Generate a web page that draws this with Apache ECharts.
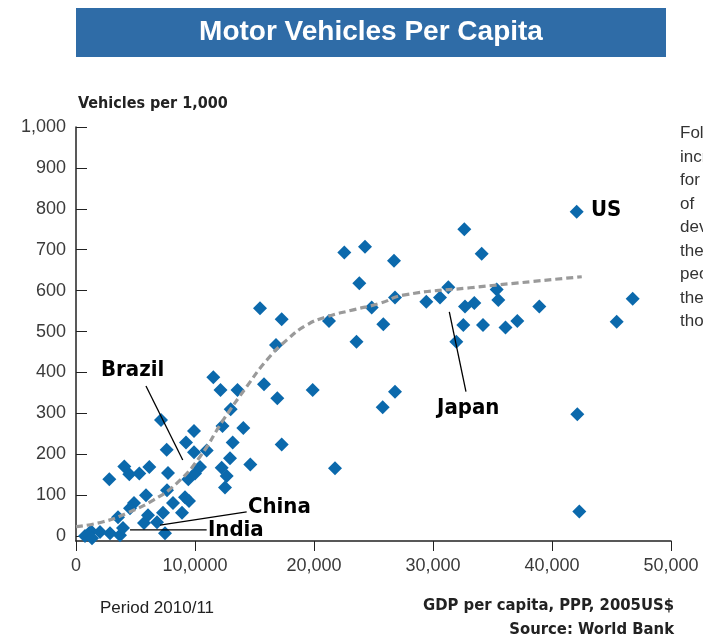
<!DOCTYPE html>
<html>
<head>
<meta charset="utf-8">
<script src="https://cdn.jsdelivr.net/npm/echarts@6/dist/echarts.min.js"></script>
<style>html,body{margin:0;padding:0;background:#fff}#c{width:703px;height:640px}</style>
</head>
<body>
<div id="c"></div>
<script>
// ---- data ----
const gdpPerCapita = [756,1260,1513,2017,1345,2857,3697,3529,3950,5714,6050,6807,7479,7311,8907,8151,9159,9495,7647,5882,4874,4538,2798,4059,4479,5319,6159,7731,9437,10000,10420,12243,12663,12521,7622,9243,9916,10983,12941,14647,7143,9916,12311,14059,13168,13000,11538,12143,13571,15798,16916,17285,16807,15462,17285,19890,21765,21261,22546,24286,23807,23571,24849,25823,25773,26807,26723,26807,29437,30588,31286,31958,32546,32689,33471,32630,34092,34202,35353,35487,36092,37084,38933,42076,42126,42294,45437,46782];
const vehiclesPer1000 = [0,12,-17,10,-5,7,2,46,20,32,51,34,7,57,57,81,95,86,112,100,81,68,139,170,151,153,169,154,139,153,169,167,147,119,211,229,205,209,190,175,284,257,269,264,229,310,388,357,357,371,337,224,467,557,530,357,166,526,693,707,618,475,559,518,315,353,673,583,573,583,608,475,516,561,570,750,690,516,603,577,510,526,561,793,298,60,524,580];
const trendGdp = [0,2290,4260,6500,8460,10420,12380,14340,16020,17700,19390,21070,23300,25550,27500,33110,42500];
const trendVehicles = [23,35,56,88,129,194,284,365,430,479,516,536,553,569,589,607,634];
const xTickLabels = ['0','10,0000','20,000','30,000','40,000','50,000'];
const yTickValues = [0,100,200,300,400,500,600,700,800,900,1000];
// annotations (data units)
const annotationNames = ['Brazil','Japan','China','India','US'];
const annotationLabelAt = [[2100,406],[30340,313],[14450,71],[11090,15],[43280,797]];
const annotationLines = [[[5880,367],[8970,186]],[[31370,548],[32770,353]],[[7060,27],[14340,59]],[[4540,15],[10980,15]],null];

const chart = echarts.init(document.getElementById('c'));
const cond = "'Liberation Sans Narrow','DejaVu Sans Condensed','Liberation Sans',sans-serif";
const tickFont = "'Liberation Sans',Arial,sans-serif";

chart.setOption({
  animation:false,
  backgroundColor:'#fff',
  grid:{left:76,right:32,top:127,bottom:99},
  xAxis:{type:'value',min:0,max:50000,interval:10000,
    splitLine:{show:false},
    axisLine:{show:true,onZero:false,lineStyle:{color:'#222',width:1.5}},
    axisTick:{show:true,inside:false,length:10,lineStyle:{color:'#222',width:1}},
    axisLabel:{margin:16,fontSize:18,color:'#3a3a3a',fontFamily:tickFont,
      formatter:v=>xTickLabels[Math.round(v/10000)]}},
  yAxis:{type:'value',min:-12,max:1000,
    splitLine:{show:false},
    axisLine:{show:true,lineStyle:{color:'#222',width:1.5}},
    axisTick:{show:true,inside:true,length:11,customValues:yTickValues,lineStyle:{color:'#222',width:1}},
    axisLabel:{margin:10,fontSize:18,color:'#3a3a3a',fontFamily:tickFont,customValues:yTickValues,
      formatter:v=>v.toLocaleString('en-US')}},
  series:[
    {type:'scatter',symbol:'diamond',symbolSize:14,
     itemStyle:{color:'#0b69ac',opacity:1},
     data:gdpPerCapita.map((x,i)=>[x,vehiclesPer1000[i]]),z:3},
    {type:'line',smooth:0.5,showSymbol:false,symbol:'none',
     lineStyle:{color:'#9a9a9a',width:3.2,type:[7,4]},
     data:trendGdp.map((x,i)=>[x,trendVehicles[i]]),z:4}
  ]
});

const g = [];
g.push({type:'rect',shape:{x:76,y:8,width:590,height:49},style:{fill:'#2f6ca7'}});
g.push({type:'text',x:371,y:32,style:{text:'Motor Vehicles Per Capita',fill:'#fff',font:"bold 28px 'Liberation Sans',Arial,sans-serif",align:'center',verticalAlign:'middle'}});
g.push({type:'text',x:78,y:104,style:{text:'Vehicles per 1,000',fill:'#222',font:"bold 16px "+cond,verticalAlign:'middle'}});
g.push({type:'text',x:680,y:122,style:{text:'Following\nincreasing\nfor\nof\ndeveloping\nthe\npeople\nthe\nthose',fill:'#333',font:"17px 'Liberation Sans',Arial,sans-serif",lineHeight:23.5}});
g.push({type:'text',x:100,y:608,style:{text:'Period 2010/11',fill:'#222',font:"17px 'Liberation Sans',Arial,sans-serif",verticalAlign:'middle'}});
g.push({type:'text',x:674,y:606,style:{text:'GDP per capita, PPP, 2005US$',fill:'#222',font:"bold 16.5px "+cond,align:'right',verticalAlign:'middle'}});
g.push({type:'text',x:674,y:630,style:{text:'Source: World Bank',fill:'#222',font:"bold 16.5px "+cond,align:'right',verticalAlign:'middle'}});
annotationNames.forEach((name,i)=>{
  const p = chart.convertToPixel({gridIndex:0},annotationLabelAt[i]);
  g.push({type:'text',x:p[0],y:p[1],z:10,style:{text:name,fill:'#000',font:"bold 22px "+cond,verticalAlign:'middle'}});
  const ln = annotationLines[i];
  if(ln){
    const a = chart.convertToPixel({gridIndex:0},ln[0]);
    const b = chart.convertToPixel({gridIndex:0},ln[1]);
    g.push({type:'line',z:10,shape:{x1:a[0],y1:a[1],x2:b[0],y2:b[1]},style:{stroke:'#000',lineWidth:1.3}});
  }
});
chart.setOption({graphic:g});
</script>
</body>
</html>
